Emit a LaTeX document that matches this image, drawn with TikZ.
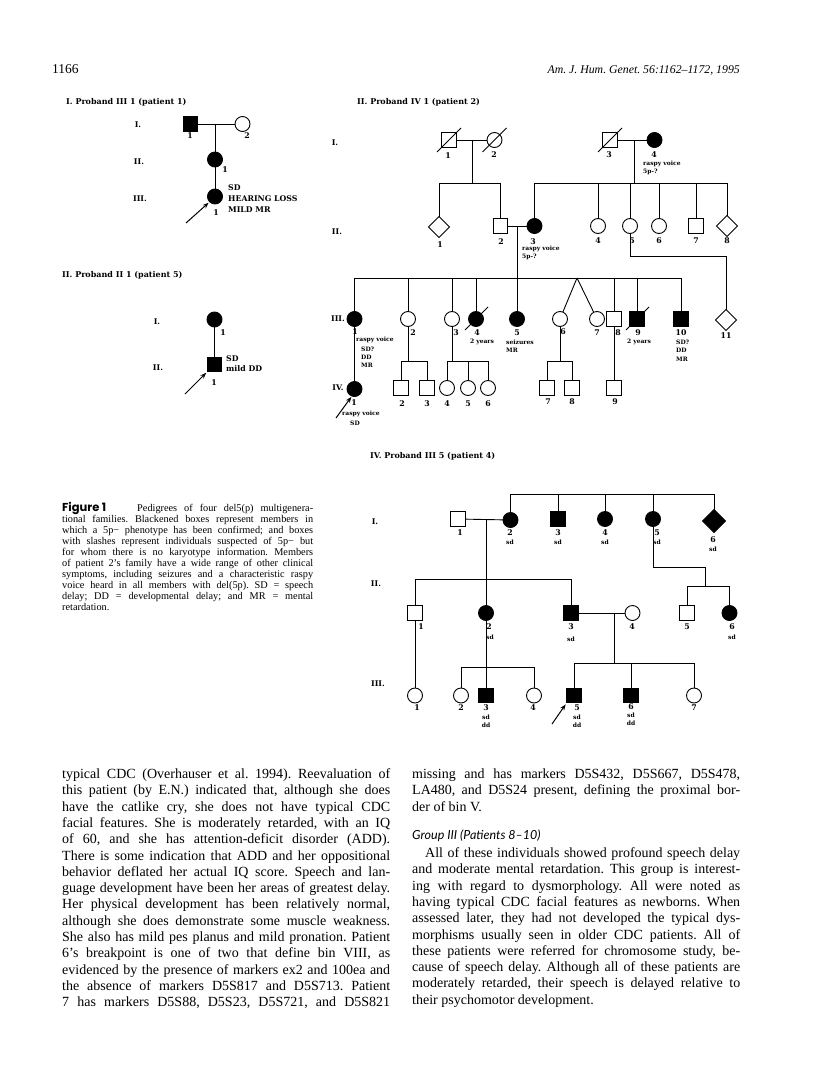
\documentclass[tikz,border=0pt]{standalone}
\usepackage{fontspec}
\setmainfont{Liberation Serif}
\newfontfamily\pedfont{DejaVu Serif}
\newfontfamily\figfont{Poppins}
\newfontfamily\grpfont{Lato}
\usetikzlibrary{shapes.geometric,arrows.meta}
\frenchspacing
\newcommand{\JL}[1]{\makebox[328pt][s]{#1}}
\newcommand{\CL}[1]{\makebox[251pt][s]{#1}}
\begin{document}
\begin{tikzpicture}[x=1pt,y=-1pt,
  ind/.style={draw,line width=0.9pt,inner sep=0,outer sep=0},
  sq/.style={ind,rectangle,minimum size=14.5pt},
  sqf/.style={sq,fill=black},
  ci/.style={ind,circle,minimum size=15pt},
  cif/.style={ci,fill=black},
  dm/.style={ind,diamond,minimum size=21pt},
  dmf/.style={dm,fill=black,minimum size=23pt},
  ln/.style={line width=0.9pt},
  arr/.style={line width=1pt,-{Stealth[length=6pt,width=4.5pt]}},
  lab/.style={inner sep=0,font=\pedfont\bfseries\fontsize{7.8}{7.8}\selectfont},
  lw/.style={lab,anchor=west},
  sm/.style={inner sep=0,font=\pedfont\bfseries\fontsize{6}{6}\selectfont},
  smw/.style={sm,anchor=west},
  ttl/.style={inner sep=0,anchor=west,font=\pedfont\bfseries\fontsize{8}{8}\selectfont},
  bt/.style={inner sep=0,anchor=base west,font=\fontsize{14}{16}\selectfont},
  captxt/.style={inner sep=0,anchor=base west,font=\fontsize{10.3}{11}\selectfont},
]
\fill[white] (0,0) rectangle (816,1081);
\useasboundingbox (0,0) rectangle (816,1081);

% ---------- header ----------
\node[anchor=base west,inner sep=0,font=\fontsize{13.5}{13.5}\selectfont] (pg) at (52,74) {1166};
\node[anchor=base east,inner sep=0,font=\itshape\fontsize{11.8}{11.8}\selectfont] (jr) at (740,74) {Am. J. Hum. Genet. 56:1162–1172, 1995};

% ---------- Pedigree I (patient 1) ----------
\node[ttl] (t1) at (66,102) {I. Proband III 1 (patient 1)};
\node[lab] (g1a) at (138,125) {I.};
\node[lab] (g1b) at (139,162) {II.};
\node[lab] (g1c) at (140,199) {III.};
\node[sqf] (a1) at (190.5,124) {};
\node[ci] (a2) at (242.5,124) {};
\node[cif] (a3) at (215,159.5) {};
\node[cif] (a4) at (215,196.5) {};
\coordinate (am) at (215,124);
\draw[ln] (a1) -- (a2);
\draw[ln] (am) -- (a3);
\draw[ln] (a3) -- (a4);
\node[lab] (a1l) at (190,136) {1};
\node[lab] (a2l) at (247,136) {2};
\node[lab] (a3l) at (225,170) {1};
\node[lab] (a4l) at (216,213) {1};
\node[lw] (a4t1) at (228,188) {SD};
\node[lw] (a4t2) at (228,199) {HEARING LOSS};
\node[lw] (a4t3) at (228,210) {MILD MR};
\coordinate (ar1) at (186,223);
\draw[arr,shorten >=1.5pt] (ar1) -- (a4.225);

% ---------- Pedigree II (patient 5) ----------
\node[ttl] (t2) at (62,275) {II. Proband II 1 (patient 5)};
\node[lab] (g2a) at (157,322) {I.};
\node[lab] (g2b) at (158,368) {II.};
\node[cif] (p1) at (214.5,319.5) {};
\node[sqf] (p2) at (214.5,364.5) {};
\draw[ln] (p1) -- (p2);
\node[lab] (p1l) at (223,333) {1};
\node[lab] (p2l) at (214,383) {1};
\node[lw] (p2t1) at (226,359) {SD};
\node[lw] (p2t2) at (226,369) {mild DD};
\coordinate (ar2) at (185,394);
\draw[arr,shorten >=1.5pt] (ar2) -- (p2.south west);

% ---------- Caption ----------
\node[anchor=base west,inner sep=0,font=\figfont\bfseries\fontsize{11.5}{11.5}\selectfont] (fig) at (62,511.5) {Figure 1};
\node[captxt] (c1) at (137,511) {\makebox[176pt][s]{Pedigrees of four del5(p) multigenera-}};
\node[captxt] (c2) at (62,522.1) {\CL{tional families. Blackened boxes represent members in}};
\node[captxt] (c3) at (62,533.2) {\CL{which a 5p− phenotype has been confirmed; and boxes}};
\node[captxt] (c4) at (62,544.3) {\CL{with slashes represent individuals suspected of 5p− but}};
\node[captxt] (c5) at (62,555.4) {\CL{for whom there is no karyotype information. Members}};
\node[captxt] (c6) at (62,566.5) {\CL{of patient 2’s family have a wide range of other clinical}};
\node[captxt] (c7) at (62,577.6) {\CL{symptoms, including seizures and a characteristic raspy}};
\node[captxt] (c8) at (62,588.7) {\CL{voice heard in all members with del(5p). SD = speech}};
\node[captxt] (c9) at (62,599.8) {\CL{delay; DD = developmental delay; and MR = mental}};
\node[captxt] (c10) at (62,610.9) {retardation.};

% ---------- Pedigree II (patient 2) ----------
\node[ttl] (t3) at (357,102) {II. Proband IV 1 (patient 2)};
\node[lab] (g3a) at (335,143) {I.};
\node[lab] (g3b) at (337,232) {II.};
\node[lab] (g3c) at (338,319) {III.};
\node[lab] (g3d) at (338,388) {IV.};
% generation I
\node[sq] (b1) at (449,140) {};
\node[ci] (b2) at (494.5,140) {};
\node[sq] (b3) at (610,140) {};
\node[cif] (b4) at (654.5,140) {};
\foreach \n in {b1,b2,b3}{\draw[ln] ([shift={(-12,12)}]\n.center) -- ([shift={(12,-12)}]\n.center);}
\draw[ln] (b1) -- (b2);
\draw[ln] (b3) -- (b4);
\node[lab] (b1l) at (448,156) {1};
\node[lab] (b2l) at (494,155) {2};
\node[lab] (b3l) at (609,155) {3};
\node[lab] (b4l) at (654,155) {4};
\node[smw] (b4t1) at (643,164) {raspy voice};
\node[smw] (b4t2) at (643,172) {5p-?};
% generation II
\node[dm] (c1n) at (439,227) {};
\node[sq] (c2n) at (500.5,226) {};
\node[cif] (c3n) at (534.5,226) {};
\node[ci] (c4n) at (598,226) {};
\node[ci] (c5n) at (630,226) {};
\node[ci] (c6n) at (659,226) {};
\node[sq] (c7n) at (696,226) {};
\node[dm] (c8n) at (727,226) {};
\coordinate (bm1) at (472,140);
\coordinate (bs1) at (472,183);
\coordinate (bm2) at (634,140);
\coordinate (bs2) at (634,183);
\draw[ln] (bm1) -- (bs1);
\draw[ln] (c1n |- bs1) -- (c2n |- bs1);
\foreach \n in {c1n,c2n}{\draw[ln] (\n |- bs1) -- (\n);}
\draw[ln] (bm2) -- (bs2);
\draw[ln] (c3n |- bs2) -- (c8n |- bs2);
\foreach \n in {c3n,c4n,c5n,c6n,c7n,c8n}{\draw[ln] (\n |- bs2) -- (\n);}
\draw[ln] (c2n) -- (c3n);
\node[lab] (c1l) at (440,245) {1};
\node[lab] (c2l) at (501,242) {2};
\node[lab] (c3l) at (533,242) {3};
\node[smw] (c3t1) at (522,249) {raspy voice};
\node[smw] (c3t2) at (522,257) {5p-?};
\node[lab] (c4l) at (598,241) {4};
\node[lab] (c5l) at (632,241) {5};
\node[lab] (c6l) at (659,241) {6};
\node[lab] (c7l) at (696,241) {7};
\node[lab] (c8l) at (727,241) {8};
% generation III
\node[cif] (d1) at (354.5,319) {};
\node[ci] (d2) at (408,319) {};
\node[ci] (d3) at (452,319) {};
\node[cif] (d4) at (476,319) {};
\node[cif] (d5) at (517,319) {};
\node[ci] (d6) at (560,319) {};
\node[ci] (d7) at (597,319) {};
\node[sq] (d8) at (614,319) {};
\node[sqf] (d9) at (637,319) {};
\node[sqf] (d10) at (681,319) {};
\node[dm] (d11) at (726,320) {};
\foreach \n in {d4,d9}{\draw[ln] ([shift={(-11,11)}]\n.center) -- ([shift={(12,-12)}]\n.center);}
\coordinate (cm) at (517,226);
\coordinate (cs) at (517,278);
\coordinate (tw) at (577,278);
\draw[ln] (cm) -- (cs);
\draw[ln] (d1 |- cs) -- (d10 |- cs);
\foreach \n in {d1,d2,d3,d4,d5,d8,d9,d10}{\draw[ln] (\n |- cs) -- (\n);}
\draw[ln] (tw) -- (d6);
\draw[ln] (tw) -- (d7);
\coordinate (k1) at (630,256);
\coordinate (k2) at (726,256);
\draw[ln] (c5n) -- (k1) -- (k2) -- (d11);
\node[lab] (d1l) at (355,332) {1};
\node[smw] (d1t1) at (356,340) {raspy voice};
\node[smw] (d1t2) at (361,349) {SD?};
\node[smw] (d1t3) at (361,357) {DD};
\node[smw] (d1t4) at (361,365) {MR};
\node[lab] (d2l) at (413,333) {2};
\node[lab] (d3l) at (456,333) {3};
\node[lab] (d4l) at (477,333) {4};
\node[sm] (d4t) at (482,342) {2 years};
\node[lab] (d5l) at (517,333) {5};
\node[smw] (d5t1) at (506,342) {seizures};
\node[smw] (d5t2) at (506,350) {MR};
\node[lab] (d6l) at (563,332) {6};
\node[lab] (d7l) at (597,333) {7};
\node[lab] (d8l) at (618,333) {8};
\node[lab] (d9l) at (638,333) {9};
\node[sm] (d9t) at (639,342) {2 years};
\node[lab] (d10l) at (681,333) {10};
\node[smw] (d10t1) at (676,342) {SD?};
\node[smw] (d10t2) at (676,350) {DD};
\node[smw] (d10t3) at (676,359) {MR};
\node[lab] (d11l) at (726,336) {11};
% generation IV
\node[cif] (e1) at (354.5,389) {};
\node[sq] (e2) at (401,388) {};
\node[sq] (e3) at (427,388) {};
\node[ci] (e4) at (447,388) {};
\node[ci] (e5) at (468,388) {};
\node[ci] (e6) at (488,388) {};
\node[sq] (e7) at (547,388) {};
\node[sq] (e8) at (572,388) {};
\node[sq] (e9) at (614,388) {};
\draw[ln] (d1) -- (e1);
\draw[ln] (d8) -- (e9);
\coordinate (ds2) at (408,361);
\coordinate (ds3) at (452,361);
\coordinate (ds6) at (560,361);
\draw[ln] (d2) -- (ds2);
\draw[ln] (e2 |- ds2) -- (e3 |- ds2);
\foreach \n in {e2,e3}{\draw[ln] (\n |- ds2) -- (\n);}
\draw[ln] (d3) -- (ds3);
\draw[ln] (e4 |- ds3) -- (e6 |- ds3);
\foreach \n in {e4,e5,e6}{\draw[ln] (\n |- ds3) -- (\n);}
\draw[ln] (d6) -- (ds6);
\draw[ln] (e7 |- ds6) -- (e8 |- ds6);
\foreach \n in {e7,e8}{\draw[ln] (\n |- ds6) -- (\n);}
\node[lab] (e1l) at (354,403) {1};
\node[smw] (e1t1) at (342,414) {raspy voice};
\node[sm] (e1t2) at (355,423) {SD};
\coordinate (ar3) at (336,418);
\draw[arr,shorten >=1pt] (ar3) -- (e1.250);
\node[lab] (e2l) at (402,404) {2};
\node[lab] (e3l) at (427,404) {3};
\node[lab] (e4l) at (447,404) {4};
\node[lab] (e5l) at (468,404) {5};
\node[lab] (e6l) at (488,404) {6};
\node[lab] (e7l) at (548,402) {7};
\node[lab] (e8l) at (572,402) {8};
\node[lab] (e9l) at (615,402) {9};

% ---------- Pedigree IV (patient 4) ----------
\node[ttl] (t4) at (370,456) {IV. Proband III 5 (patient 4)};
\node[lab] (g4a) at (375,522) {I.};
\node[lab] (g4b) at (376,584) {II.};
\node[lab] (g4c) at (378,684) {III.};
% generation I
\node[sq] (f1) at (458,519) {};
\node[cif] (f2) at (510.5,520) {};
\node[sqf] (f3) at (558,519) {};
\node[cif] (f4) at (605,519) {};
\node[cif] (f5) at (653,519) {};
\node[dmf] (f6) at (714,521) {};
\coordinate (fs) at (510.5,494);
\draw[ln] (f2 |- fs) -- (f6 |- fs);
\foreach \n in {f2,f3,f4,f5,f6}{\draw[ln] (\n |- fs) -- (\n);}
\draw[ln] (f1) -- (f2);
\node[lab] (f1l) at (460,533) {1};
\node[lab] (f2l) at (510,533) {2};
\node[sm] (f2t) at (510,542) {sd};
\node[lab] (f3l) at (558,533) {3};
\node[sm] (f3t) at (558,542) {sd};
\node[lab] (f4l) at (605,533) {4};
\node[sm] (f4t) at (605,542) {sd};
\node[lab] (f5l) at (657,533) {5};
\node[sm] (f5t) at (657,542) {sd};
\node[lab] (f6l) at (713,540) {6};
\node[sm] (f6t) at (713,549) {sd};
% generation II
\node[sq] (h1n) at (415,613) {};
\node[cif] (h2n) at (486,613) {};
\node[sqf] (h3n) at (571,613) {};
\node[ci] (h4n) at (632.5,613) {};
\node[sq] (h5n) at (687,613) {};
\node[cif] (h6n) at (729.5,613) {};
\coordinate (fm) at (486,519);
\coordinate (fs2) at (486,579);
\draw[ln] (fm) -- (fs2);
\draw[ln] (h1n |- fs2) -- (h3n |- fs2);
\foreach \n in {h1n,h2n,h3n}{\draw[ln] (\n |- fs2) -- (\n);}
\coordinate (q1) at (653,567);
\coordinate (q2) at (705,567);
\coordinate (q3) at (705,586);
\draw[ln] (f5) -- (q1) -- (q2) -- (q3);
\draw[ln] (h5n |- q3) -- (h6n |- q3);
\foreach \n in {h5n,h6n}{\draw[ln] (\n |- q3) -- (\n);}
\draw[ln] (h3n) -- (h4n);
\node[lab] (h1l) at (421,627) {1};
\node[lab] (h2l) at (489,627) {2};
\node[sm] (h2t) at (490,637) {sd};
\node[lab] (h3l) at (571,627) {3};
\node[sm] (h3t) at (571,639) {sd};
\node[lab] (h4l) at (632,627) {4};
\node[lab] (h5l) at (687,627) {5};
\node[lab] (h6l) at (732,627) {6};
\node[sm] (h6t) at (732,637) {sd};
% generation III
\node[ci] (i1) at (415,695.5) {};
\node[ci] (i2) at (461,695.5) {};
\node[sqf] (i3) at (486,695.5) {};
\node[ci] (i4) at (534,695.5) {};
\node[sqf] (i5) at (574,695.5) {};
\node[sqf] (i6) at (631,695.5) {};
\node[ci] (i7) at (694,695.5) {};
\draw[ln] (h1n) -- (i1);
\coordinate (hs2) at (486,667);
\draw[ln] (h2n) -- (hs2);
\draw[ln] (i2 |- hs2) -- (i4 |- hs2);
\foreach \n in {i2,i3,i4}{\draw[ln] (\n |- hs2) -- (\n);}
\coordinate (hm) at (614,613);
\coordinate (hs3) at (614,663);
\draw[ln] (hm) -- (hs3);
\draw[ln] (i5 |- hs3) -- (i7 |- hs3);
\foreach \n in {i5,i6,i7}{\draw[ln] (\n |- hs3) -- (\n);}
\node[lab] (i1l) at (417,708) {1};
\node[lab] (i2l) at (461,708) {2};
\node[lab] (i3l) at (486,708) {3};
\node[sm] (i3t1) at (486,717) {sd};
\node[sm] (i3t2) at (486,725) {dd};
\node[lab] (i4l) at (533,708) {4};
\node[lab] (i5l) at (577,708) {5};
\node[sm] (i5t1) at (577,717) {sd};
\node[sm] (i5t2) at (577,725) {dd};
\node[lab] (i6l) at (631,707) {6};
\node[sm] (i6t1) at (631,715) {sd};
\node[sm] (i6t2) at (631,723) {dd};
\node[lab] (i7l) at (694,708) {7};
\coordinate (ar4) at (552,724);
\draw[arr,shorten >=2pt] (ar4) -- (i5.south west);

% ---------- left text column ----------
\node[bt] (L1) at (62,778.5) {\JL{typical CDC (Overhauser et al. 1994). Reevaluation of}};
\node[bt] (L2) at (62,794.8) {\JL{this patient (by E.N.) indicated that, although she does}};
\node[bt] (L3) at (62,811.1) {\JL{have the catlike cry, she does not have typical CDC}};
\node[bt] (L4) at (62,827.4) {\JL{facial features. She is moderately retarded, with an IQ}};
\node[bt] (L5) at (62,843.7) {\JL{of 60, and she has attention-deficit disorder (ADD).}};
\node[bt] (L6) at (62,860.0) {\JL{There is some indication that ADD and her oppositional}};
\node[bt] (L7) at (62,876.3) {\JL{behavior deflated her actual IQ score. Speech and lan-}};
\node[bt] (L8) at (62,892.6) {\JL{guage development have been her areas of greatest delay.}};
\node[bt] (L9) at (62,908.9) {\JL{Her physical development has been relatively normal,}};
\node[bt] (L10) at (62,925.2) {\JL{although she does demonstrate some muscle weakness.}};
\node[bt] (L11) at (62,941.5) {\JL{She also has mild pes planus and mild pronation. Patient}};
\node[bt] (L12) at (62,957.8) {\JL{6’s breakpoint is one of two that define bin VIII, as}};
\node[bt] (L13) at (62,974.1) {\JL{evidenced by the presence of markers ex2 and 100ea and}};
\node[bt] (L14) at (62,990.4) {\JL{the absence of markers D5S817 and D5S713. Patient}};
\node[bt] (L15) at (62,1006.7) {\JL{7 has markers D5S88, D5S23, D5S721, and D5S821}};

% ---------- right text column ----------
\node[bt] (R1) at (412,778.5) {\JL{missing and has markers D5S432, D5S667, D5S478,}};
\node[bt] (R2) at (412,794.8) {\JL{LA480, and D5S24 present, defining the proximal bor-}};
\node[bt] (R3) at (412,811.1) {der of bin V.};
\node[anchor=base west,inner sep=0,font=\grpfont\itshape\fontsize{12.5}{12.5}\selectfont] (RG) at (412,839.5) {Group III (Patients 8–10)};
\node[bt] (R4) at (425,857.5) {\makebox[315pt][s]{All of these individuals showed profound speech delay}};
\node[bt] (R5) at (412,873.8) {\JL{and moderate mental retardation. This group is interest-}};
\node[bt] (R6) at (412,890.1) {\JL{ing with regard to dysmorphology. All were noted as}};
\node[bt] (R7) at (412,906.4) {\JL{having typical CDC facial features as newborns. When}};
\node[bt] (R8) at (412,922.7) {\JL{assessed later, they had not developed the typical dys-}};
\node[bt] (R9) at (412,939.0) {\JL{morphisms usually seen in older CDC patients. All of}};
\node[bt] (R10) at (412,955.3) {\JL{these patients were referred for chromosome study, be-}};
\node[bt] (R11) at (412,971.6) {\JL{cause of speech delay. Although all of these patients are}};
\node[bt] (R12) at (412,987.9) {\JL{moderately retarded, their speech is delayed relative to}};
\node[bt] (R13) at (412,1004.2) {their psychomotor development.};
\end{tikzpicture}
\end{document}
